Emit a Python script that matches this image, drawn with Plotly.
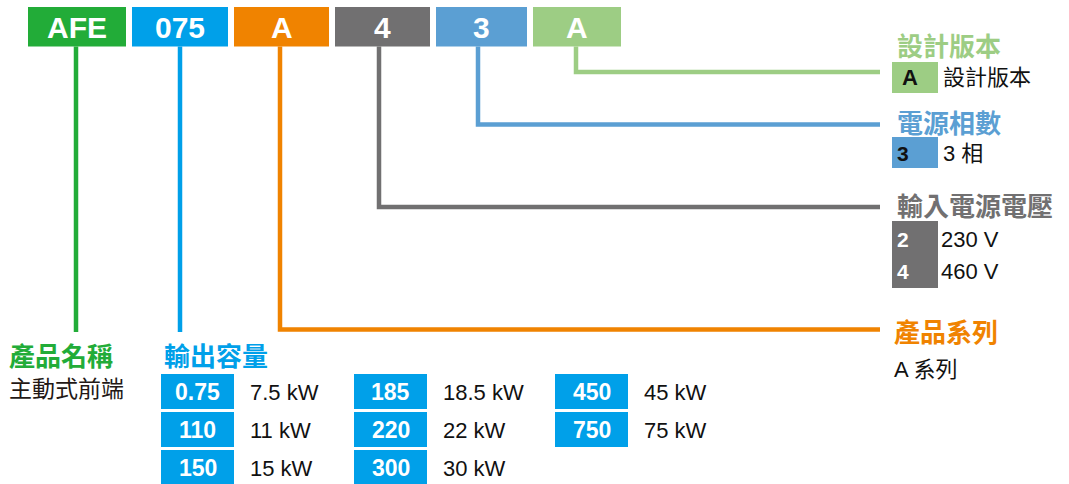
import plotly.graph_objects as go

# ---------------- data ----------------
code_parts = ["AFE", "075", "A", "4", "3", "A"]
code_colors = ["#22AC38", "#00A0E9", "#F08300", "#717071", "#5B9FD3", "#9DCD84"]

name_title = "產品名稱"
name_values = ["主動式前端"]

capacity_title = "輸出容量"
capacity_codes = ["0.75", "110", "150", "185", "220", "300", "450", "750"]
capacity_labels = ["7.5 kW", "11 kW", "15 kW", "18.5 kW", "22 kW", "30 kW", "45 kW", "75 kW"]

series_title = "產品系列"
series_codes = ["A"]
series_labels = ["A 系列"]

voltage_title = "輸入電源電壓"
voltage_codes = ["2", "4"]
voltage_labels = ["230 V", "460 V"]

phase_title = "電源相數"
phase_codes = ["3"]
phase_labels = ["3 相"]

version_title = "設計版本"
version_codes = ["A"]
version_labels = ["設計版本"]

# ---------------- layout constants ----------------
W, H = 1069, 484
LAT = "Arial, 'Liberation Sans', sans-serif"
CJK = "'Noto Sans CJK TC', 'Noto Sans CJK SC', sans-serif"
MIX = "Arial, 'Liberation Sans', 'Noto Sans CJK TC', sans-serif"

box_x = [(28, 126), (132, 228), (234, 329), (335, 430), (436, 527), (533, 621)]
box_y = (7, 46.5)
line_x = [76, 180, 280, 379, 478, 576]
line_w = 4.5
line_end_x = 880

shapes = []
annotations = []


def add_text(x, y, text, size, color, family=MIX, bold=False, anchor="left"):
    t = f"<b>{text}</b>" if bold else text
    annotations.append(dict(x=x, y=y, xref="x", yref="y", text=t, showarrow=False,
                            xanchor=anchor, yanchor="middle", borderpad=0,
                            font=dict(size=size, color=color, family=family)))


def add_box(x0, x1, y0, y1, color):
    shapes.append(dict(type="rect", xref="x", yref="y", x0=x0, x1=x1, y0=y0, y1=y1,
                       fillcolor=color, line=dict(width=0), layer="below"))


def add_path(points, color):
    path = "M " + " L ".join(f"{px},{py}" for px, py in points)
    shapes.append(dict(type="path", xref="x", yref="y", path=path,
                       line=dict(color=color, width=line_w), fillcolor="rgba(0,0,0,0)"))


# top code boxes
for (x0, x1), code, col in zip(box_x, code_parts, code_colors):
    add_box(x0, x1, box_y[0], box_y[1], col)
    add_text((x0 + x1) / 2, 27, code, 30, "white", LAT, bold=True, anchor="center")

# connector lines
green, blue, orange, gray, lblue, lgreen = code_colors
add_path([(line_x[0], box_y[1]), (line_x[0], 332)], green)
add_path([(line_x[1], box_y[1]), (line_x[1], 332)], blue)
add_path([(line_x[2], box_y[1]), (line_x[2], 329.5), (line_end_x, 329.5)], orange)
add_path([(line_x[3], box_y[1]), (line_x[3], 207), (line_end_x, 207)], gray)
add_path([(line_x[4], box_y[1]), (line_x[4], 124.5), (line_end_x, 124.5)], lblue)
add_path([(line_x[5], box_y[1]), (line_x[5], 72), (line_end_x, 72)], lgreen)

TITLE_SIZE = 26
BODY_SIZE = 22

# product name
add_text(8, 354, name_title, TITLE_SIZE, green, CJK, bold=True)
for i, v in enumerate(name_values):
    add_text(8, 387 + i * 36, v, 23, "#231815", CJK)

# capacity
add_text(163, 354, capacity_title, TITLE_SIZE, blue, CJK, bold=True)
col_x = [161, 354, 555]
row_y = [374, 412, 450]
box_wd = 73
for i, (c, lab) in enumerate(zip(capacity_codes, capacity_labels)):
    col, row = divmod(i, 3)
    x0 = col_x[col]
    y0 = row_y[row]
    y1 = y0 + 35 if row < 2 else H + 2
    add_box(x0, x0 + box_wd, y0, y1, blue)
    yc = y0 + 18
    add_text(x0 + box_wd / 2, yc, c, 23, "white", LAT, bold=True, anchor="center")
    add_text(x0 + box_wd + 15, yc, lab, 22, "#111111", LAT)

# right side legend
RX = 892
RBW = 46

add_text(RX + 4, 44, version_title, TITLE_SIZE, lgreen, CJK, bold=True)
for i, (c, lab) in enumerate(zip(version_codes, version_labels)):
    y0 = 62 + i * 31
    add_box(RX, RX + RBW, y0, y0 + 31, lgreen)
    add_text(RX + 9, y0 + 15.5, c, 22, "#111111", LAT, bold=True)
    add_text(RX + 50, y0 + 15.5, lab, 22, "#111111", MIX)

add_text(RX + 4, 121, phase_title, TITLE_SIZE, lblue, CJK, bold=True)
for i, (c, lab) in enumerate(zip(phase_codes, phase_labels)):
    y0 = 137 + i * 31
    add_box(RX, RX + RBW, y0, y0 + 31, lblue)
    add_text(RX + 4, y0 + 16, c, 21, "#111111", LAT, bold=True)
    add_text(RX + 50, y0 + 16, lab, 22, "#111111", MIX)

add_text(RX + 4, 204, voltage_title, TITLE_SIZE, gray, CJK, bold=True)
add_box(RX, RX + RBW, 221, 221 + 67 * len(voltage_codes) / 2, gray)
for i, (c, lab) in enumerate(zip(voltage_codes, voltage_labels)):
    yc = 239.5 + i * 31.5
    add_text(RX + 4, yc, c, 21, "white", LAT, bold=True)
    add_text(RX + 48, yc, lab, 22, "#111111", LAT)

add_text(RX + 1, 330, series_title, TITLE_SIZE, orange, CJK, bold=True)
for i, lab in enumerate(series_labels):
    add_text(RX + 1, 369 + i * 31, lab, 22, "#111111", MIX)

fig = go.Figure()
fig.update_layout(
    width=W, height=H, autosize=False,
    margin=dict(l=0, r=0, t=0, b=0),
    paper_bgcolor="white", plot_bgcolor="white",
    xaxis=dict(range=[0, W], visible=False, fixedrange=True),
    yaxis=dict(range=[H, 0], visible=False, fixedrange=True),
    shapes=shapes, annotations=annotations, showlegend=False,
)
fig.write_html(
    "out.html",
    config={"displayModeBar": False},
    post_script="document.body.style.margin='0';document.body.style.overflow='hidden';",
)
